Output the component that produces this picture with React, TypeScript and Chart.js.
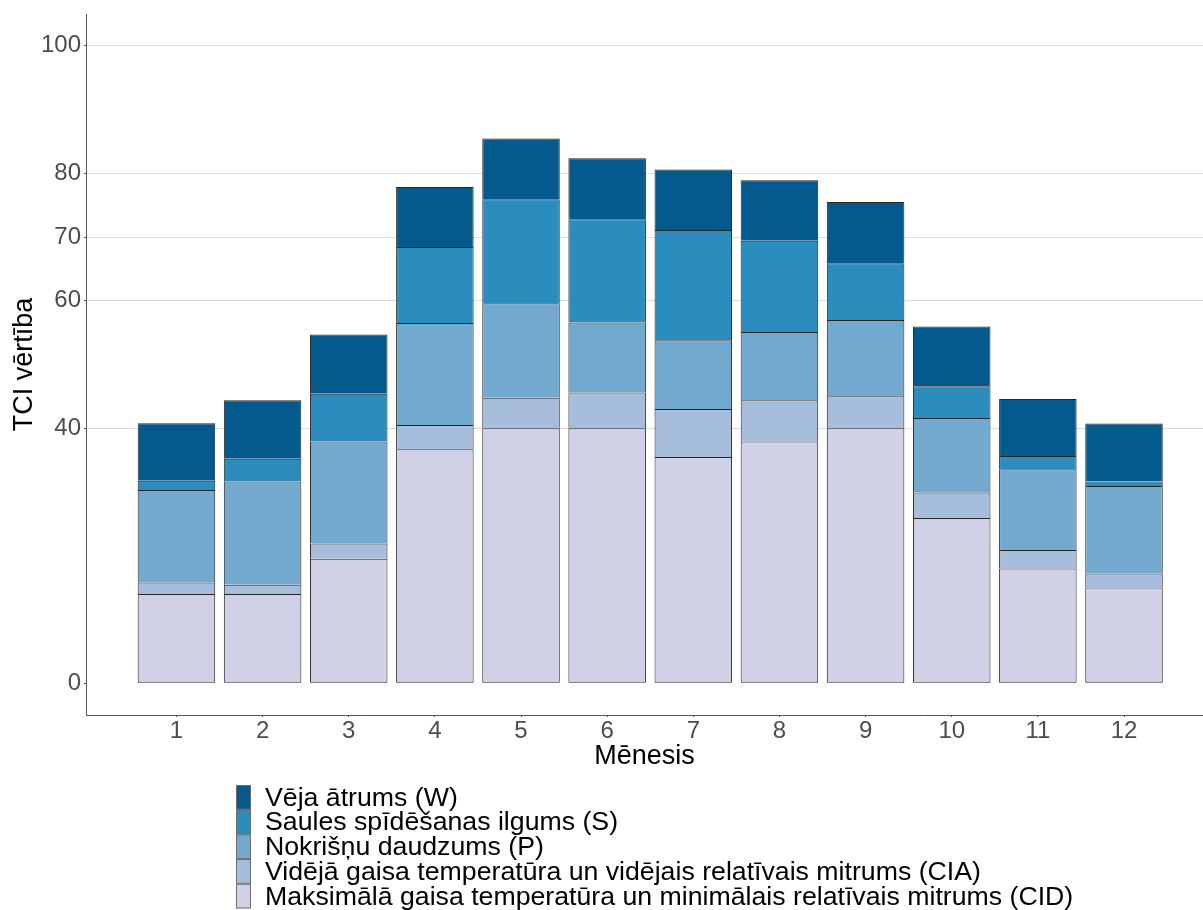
import React, { useEffect, useRef } from 'react';
import { Chart, registerables } from 'chart.js';

Chart.register(...registerables);

// ---- Data ----
const months = [1, 2, 3, 4, 5, 6, 7, 8, 9, 10, 11, 12];

const cidValues = [14.0, 14.0, 19.5, 36.7, 40.0, 40.0, 35.5, 37.9, 40.0, 25.9, 18.0, 15.0];
const ciaValues = [1.8, 1.45, 2.4, 3.8, 4.8, 5.6, 7.5, 6.5, 5.0, 4.0, 2.9, 2.2];
const pValues = [14.5, 16.2, 16.0, 16.0, 14.8, 11.0, 10.8, 10.7, 12.0, 11.7, 12.65, 13.75];
const sValues = [1.45, 3.55, 7.5, 11.95, 16.35, 16.2, 17.3, 14.3, 8.9, 5.0, 2.1, 0.7];
const wValues = [9.05, 9.2, 9.3, 9.4, 9.5, 9.55, 9.5, 9.5, 9.6, 9.35, 8.95, 9.1];

const seriesLabels = [
  'Maksimālā gaisa temperatūra un minimālais relatīvais mitrums (CID)',
  'Vidējā gaisa temperatūra un vidējais relatīvais mitrums (CIA)',
  'Nokrišņu daudzums (P)',
  'Saules spīdēšanas ilgums (S)',
  'Vēja ātrums (W)',
];
const seriesValues = [cidValues, ciaValues, pValues, sValues, wValues];
const seriesColors = ['#d0d1e6', '#a6bddb', '#74a9cf', '#2b8cbe', '#045a8d'];

const yTickValues = [0, 40, 60, 70, 80, 100];

const xTitle = 'Mēnesis';
const yTitle = 'TCI vērtība';

const FONT = '"Liberation Sans", Arial, sans-serif';

const stackLegend = {
  id: 'stackLegend',
  afterDraw(chart: any) {
    const ctx = chart.ctx;
    const ds = chart.data.datasets;
    const x0 = 236;
    const y0 = 785;
    const kw = 15;
    const rh = 24.7;
    ctx.save();
    ctx.font = `26.7px ${FONT}`;
    ctx.textBaseline = 'middle';
    ctx.textAlign = 'left';
    for (let i = 0; i < ds.length; i++) {
      const d = ds[ds.length - 1 - i];
      const y = y0 + i * rh;
      ctx.fillStyle = d.backgroundColor;
      ctx.fillRect(x0, y, kw, rh);
      ctx.strokeStyle = '#6e6e6e';
      ctx.lineWidth = 1;
      ctx.strokeRect(x0 + 0.5, y + 0.5, kw - 1, rh - 1);
      ctx.fillStyle = '#000000';
      ctx.fillText(d.label, 265, y + rh / 2 + 1);
    }
    ctx.restore();
  },
};

export default function App() {
  const canvasRef = useRef<HTMLCanvasElement | null>(null);

  useEffect(() => {
    if (!canvasRef.current) return;
    const chart = new Chart(canvasRef.current, {
      type: 'bar',
      data: {
        datasets: seriesLabels.map((label, i) => ({
          label,
          data: months.map((m, j) => ({ x: m, y: seriesValues[i][j] })),
          backgroundColor: seriesColors[i],
          borderColor: '#262626',
          borderWidth: 1,
          borderSkipped: i === 0 ? false : 'start',
          categoryPercentage: 1,
          barPercentage: 0.9,
        })),
      },
      options: {
        animation: false,
        responsive: false,
        devicePixelRatio: 1,
        layout: { padding: { top: 14, right: 0, left: 0, bottom: 0 } },
        plugins: {
          legend: { display: false },
          tooltip: { enabled: false },
        },
        scales: {
          x: {
            type: 'linear',
            stacked: true,
            offset: false,
            min: -0.05,
            max: 12.917,
            afterBuildTicks: (s: any) => {
              s.ticks = months.map((v) => ({ value: v }));
            },
            afterFit: (s: any) => {
              s.height = 195;
              s.paddingLeft = 0;
              s.paddingRight = 0;
            },
            grid: {
              offset: false,
              drawOnChartArea: false,
              drawTicks: true,
              tickLength: 2,
              tickColor: '#595959',
            },
            border: { display: true, color: '#595959', width: 1 },
            ticks: {
              padding: 0,
              color: '#4d4d4d',
              font: { family: FONT, size: 24 },
              maxRotation: 0,
              autoSkip: false,
            },
            title: {
              display: true,
              text: xTitle,
              color: '#000000',
              font: { family: FONT, size: 27 },
              padding: { top: 0, bottom: 137 },
            },
          },
          y: {
            stacked: true,
            min: -5,
            max: 105,
            afterBuildTicks: (s: any) => {
              s.ticks = yTickValues.map((v) => ({ value: v }));
            },
            afterFit: (s: any) => {
              s.width = 86;
              s.paddingTop = 0;
              s.paddingBottom = 0;
            },
            grid: {
              offset: false,
              color: (c: any) => (c.tick && c.tick.value === 0 ? 'rgba(0,0,0,0)' : '#dcdcdc'),
              tickColor: '#595959',
              tickLength: 2,
              lineWidth: 1,
            },
            border: { display: true, color: '#595959', width: 1 },
            ticks: {
              padding: 3,
              color: '#4d4d4d',
              font: { family: FONT, size: 24 },
            },
            title: {
              display: true,
              text: yTitle,
              color: '#000000',
              font: { family: FONT, size: 27 },
              padding: { top: 8, bottom: 0 },
            },
          },
        },
      } as any,
      plugins: [stackLegend],
    });
    return () => chart.destroy();
  }, []);

  return (
    <div style={{ position: 'fixed', left: 0, top: 0, width: 1203, height: 910, background: '#ffffff' }}>
      <canvas ref={canvasRef} width={1203} height={910} style={{ width: 1203, height: 910, display: 'block' }} />
    </div>
  );
}
